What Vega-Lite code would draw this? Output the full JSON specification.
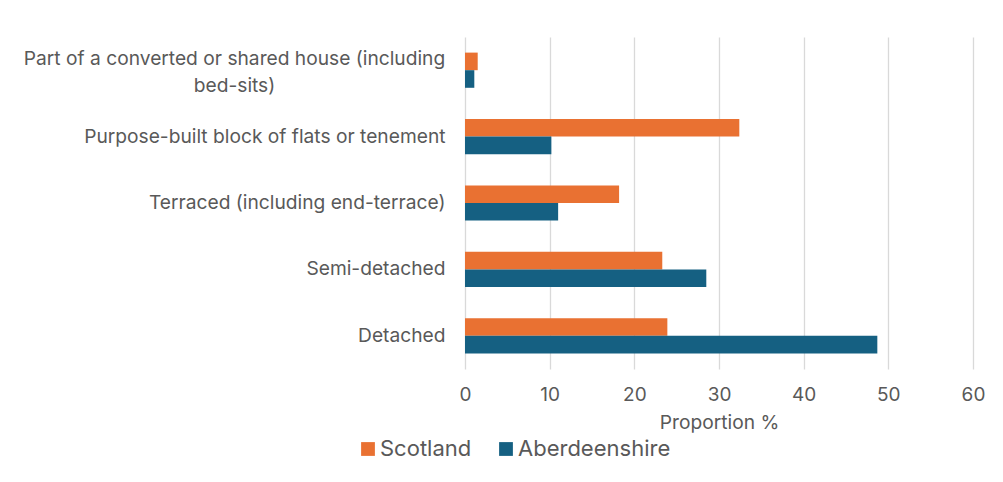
{
  "$schema": "https://vega.github.io/schema/vega-lite/v6.json",
  "autosize": {"type": "none"},
  "width": 508,
  "height": 332,
  "padding": {"left": 465, "top": 37, "right": 30, "bottom": 113},
  "background": "white",
  "config": {
    "view": {"stroke": null},
    "font": "Inter"
  },
  "data": {
    "values": [
      {"type": "Part of a converted or shared house (including bed-sits)", "area": "Scotland", "value": 1.5},
      {"type": "Part of a converted or shared house (including bed-sits)", "area": "Aberdeenshire", "value": 1.1},
      {"type": "Purpose-built block of flats or tenement", "area": "Scotland", "value": 32.4},
      {"type": "Purpose-built block of flats or tenement", "area": "Aberdeenshire", "value": 10.2},
      {"type": "Terraced (including end-terrace)", "area": "Scotland", "value": 18.2},
      {"type": "Terraced (including end-terrace)", "area": "Aberdeenshire", "value": 11.0},
      {"type": "Semi-detached", "area": "Scotland", "value": 23.3},
      {"type": "Semi-detached", "area": "Aberdeenshire", "value": 28.5},
      {"type": "Detached", "area": "Scotland", "value": 23.9},
      {"type": "Detached", "area": "Aberdeenshire", "value": 48.7}
    ]
  },
  "mark": {"type": "bar"},
  "encoding": {
    "y": {
      "field": "type",
      "type": "nominal",
      "sort": [
        "Part of a converted or shared house (including bed-sits)",
        "Purpose-built block of flats or tenement",
        "Terraced (including end-terrace)",
        "Semi-detached",
        "Detached"
      ],
      "scale": {"paddingInner": 0.47, "paddingOuter": 0.235},
      "axis": {
        "title": null,
        "domain": false,
        "ticks": false,
        "grid": false,
        "labelFontSize": 19.2,
        "labelColor": "#595959",
        "labelLimit": 500,
        "labelLineHeight": 27,
        "labelBaseline": "middle",
        "labelExpr": "datum.value == 'Part of a converted or shared house (including bed-sits)' ? ['Part of a converted or shared house (including', 'bed-sits)'] : datum.value",
        "labelAlign": {"condition": {"test": "datum.value == 'Part of a converted or shared house (including bed-sits)'", "value": "center"}, "value": "right"},
        "labelPadding": {"condition": {"test": "datum.value == 'Part of a converted or shared house (including bed-sits)'", "value": 231}, "value": 20},
        "labelOffset": {"condition": {"test": "datum.value == 'Part of a converted or shared house (including bed-sits)'", "value": -11}, "value": 0}
      }
    },
    "yOffset": {
      "field": "area",
      "type": "nominal",
      "sort": ["Scotland", "Aberdeenshire"],
      "scale": {"paddingInner": 0, "paddingOuter": 0}
    },
    "x": {
      "field": "value",
      "type": "quantitative",
      "scale": {"domain": [0, 60]},
      "axis": {
        "title": "Proportion %",
        "values": [0, 10, 20, 30, 40, 50, 60],
        "domain": false,
        "ticks": false,
        "grid": true,
        "gridColor": "#d9d9d9",
        "gridWidth": 1.3,
        "labelFlush": false,
        "labelBound": false,
        "labelFontSize": 19,
        "labelColor": "#595959",
        "labelPadding": 16,
        "titleFontSize": 19.2,
        "titleFontWeight": "normal",
        "titleColor": "#595959",
        "titlePadding": 9
      }
    },
    "color": {
      "field": "area",
      "type": "nominal",
      "sort": ["Scotland", "Aberdeenshire"],
      "scale": {"domain": ["Scotland", "Aberdeenshire"], "range": ["#E97132", "#156082"]},
      "legend": {
        "title": null,
        "orient": "none",
        "direction": "horizontal",
        "legendX": -108,
        "legendY": 401,
        "symbolType": "square",
        "symbolSize": 190,
        "symbolStrokeWidth": 0,
        "labelFontSize": 22,
        "labelColor": "#595959",
        "labelOffset": 1,
        "columnPadding": 23
      }
    }
  }
}
